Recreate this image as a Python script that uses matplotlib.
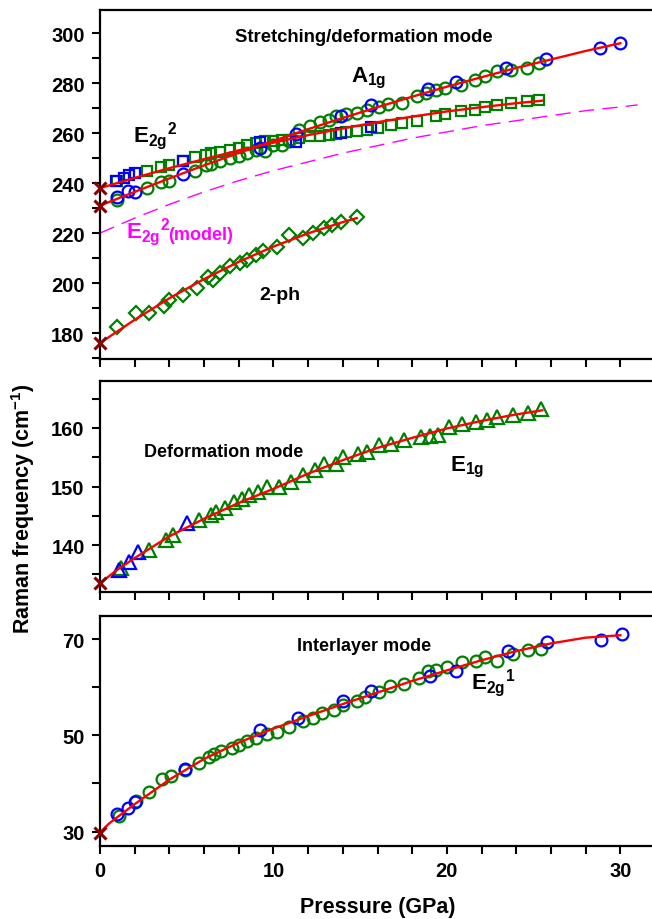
import matplotlib
matplotlib.use('Agg')
import matplotlib.pyplot as plt
from matplotlib.ticker import MultipleLocator, FixedLocator

plt.rcParams['font.family'] = ['Liberation Sans', 'DejaVu Sans']
plt.rcParams['font.weight'] = 'bold'
plt.rcParams['mathtext.fontset'] = 'custom'
plt.rcParams['mathtext.rm'] = 'Liberation Sans:bold'
plt.rcParams['mathtext.bf'] = 'Liberation Sans:bold'
plt.rcParams['mathtext.it'] = 'Liberation Sans:bold'

GREEN = '#008000'
BLUE = '#0000ff'
RED = '#ff0000'
XRED = '#8b0000'
MAGENTA = '#ff00ff'

# ---- top panel: A1g (circles), E2g^2 (squares), 2-phonon (diamonds) ----
a1g_green_p = [1.0, 2.7, 3.5, 4.0, 5.5, 6.1, 6.4, 6.9, 7.5, 8.0, 8.5, 9.0, 9.5, 10.0,
               10.5, 10.9, 11.5, 12.1, 12.7, 13.2, 13.6, 14.2, 14.8, 15.4, 16.1, 16.6,
               17.4, 18.3, 18.8, 19.4, 19.9, 20.8, 21.6, 22.2, 22.9, 23.7, 24.6, 25.3]
a1g_green_v = [233.3, 238.0, 240.3, 241.0, 245.0, 247.3, 247.7, 248.7, 250.0, 250.7,
               252.0, 253.3, 252.7, 255.3, 255.3, 256.7, 261.3, 263.0, 264.3, 265.3,
               267.0, 267.5, 268.0, 269.3, 270.5, 271.6, 272.1, 274.7, 276.0, 277.1,
               278.0, 279.3, 281.3, 282.9, 284.7, 285.3, 286.0, 288.0]
a1g_blue_p = [1.0, 1.6, 2.0, 4.8, 9.2, 11.3, 13.9, 15.6, 18.9, 20.5, 23.4, 25.7, 28.8, 30.0]
a1g_blue_v = [234.5, 237.0, 236.5, 243.5, 254.0, 259.5, 266.9, 271.2, 277.8, 280.3,
              286.0, 289.6, 294.0, 296.0]
a1g_fit_p = [0, 2, 4, 6, 8, 10, 12, 14, 16, 18, 20, 22, 24, 26, 28, 30]
a1g_fit_v = [231.0, 236.5, 241.9, 247.1, 252.1, 256.9, 261.6, 266.1, 270.4, 274.6,
             278.6, 282.4, 286.1, 289.5, 292.9, 296.0]

e2g2_green_p = [1.0, 2.7, 3.5, 4.0, 4.8, 5.5, 6.1, 6.4, 6.9, 7.5, 8.0, 8.5, 9.0, 9.5,
                10.0, 10.5, 10.9, 11.5, 12.1, 12.7, 13.2, 13.6, 14.2, 14.8, 15.4, 16.0,
                16.8, 17.4, 18.3, 19.4, 19.9, 20.8, 21.6, 22.2, 22.9, 23.7, 24.6, 25.3]
e2g2_green_v = [240.9, 244.9, 246.3, 247.1, 248.9, 250.3, 251.3, 252.0, 252.4, 253.3,
                254.0, 255.3, 256.0, 256.7, 257.0, 257.3, 257.3, 258.0, 258.7, 258.9,
                259.3, 259.6, 260.4, 260.7, 261.3, 262.0, 263.1, 264.0, 264.9, 266.7,
                267.6, 268.7, 269.3, 270.3, 271.3, 272.0, 272.9, 273.3]
e2g2_blue_p = [0.9, 1.4, 1.7, 2.0, 4.8, 9.2, 11.3, 13.9, 15.6]
e2g2_blue_v = [240.9, 242.0, 243.3, 244.0, 248.7, 256.5, 256.4, 260.0, 262.5]
e2g2_fit_p = [0, 2, 4, 6, 8, 10, 12, 14, 16, 18, 20, 22, 24, 25.5]
e2g2_fit_v = [238.0, 242.1, 246.0, 249.6, 253.1, 256.2, 259.2, 261.9, 264.4, 266.6,
              268.7, 270.4, 272.0, 273.0]

model_p = [0, 2, 4, 6, 8, 10, 12, 14, 16, 18, 20, 22, 24, 26, 28, 30, 31]
model_v = [220.0, 226.0, 231.5, 236.5, 241.0, 245.0, 248.5, 252.0, 255.0, 258.0,
           260.5, 263.0, 265.0, 267.0, 269.0, 270.5, 271.3]

ph2_p = [1.0, 2.1, 2.8, 3.7, 4.0, 4.8, 5.6, 6.2, 6.5, 6.9, 7.5, 8.1, 8.5, 9.0, 9.4,
         10.2, 10.9, 11.7, 12.3, 12.9, 13.4, 13.9, 14.8]
ph2_v = [182.3, 188.0, 188.0, 190.7, 193.3, 195.3, 198.0, 202.3, 201.3, 204.0, 206.7,
         208.0, 209.3, 211.3, 212.7, 214.3, 219.1, 218.0, 220.0, 222.0, 223.3, 224.4, 226.4]
ph2_fit_p = [0, 2, 4, 6, 8, 10, 12, 14, 14.8]
ph2_fit_v = [176.0, 185.3, 193.9, 201.6, 208.5, 214.6, 219.9, 224.4, 226.0]

# ---- middle panel: E1g (triangles) ----
e1g_green_p = [1.2, 2.8, 3.8, 4.2, 5.7, 6.4, 6.7, 7.2, 7.7, 8.2, 8.6, 9.1, 9.6, 10.3,
               11.0, 11.7, 12.4, 12.9, 13.6, 14.0, 14.9, 15.4, 16.1, 16.8, 17.5, 18.5,
               19.0, 19.5, 20.1, 20.9, 21.7, 22.3, 22.9, 23.8, 24.7, 25.4]
e1g_green_v = [136.1, 139.2, 140.9, 141.8, 144.3, 145.2, 145.7, 146.3, 147.4, 147.9,
               148.6, 149.1, 150.0, 150.0, 150.8, 152.0, 152.8, 153.9, 153.9, 155.1,
               155.6, 155.9, 157.1, 157.3, 157.9, 158.5, 158.6, 158.8, 160.2, 160.7,
               161.0, 161.3, 161.9, 162.2, 162.6, 163.3]
e1g_blue_p = [1.1, 1.7, 2.2, 5.0]
e1g_blue_v = [135.8, 137.1, 138.9, 143.7]
e1g_fit_p = [0, 1, 2, 4, 6, 8, 10, 12, 14, 16, 18, 20, 22, 24, 25.5]
e1g_fit_v = [133.5, 135.8, 137.8, 141.5, 144.5, 147.2, 149.6, 152.2, 154.5, 156.6,
             158.3, 159.9, 161.2, 162.3, 163.0]

# ---- bottom panel: E2g^1 (circles) ----
e2g1_green_p = [1.1, 2.1, 2.8, 3.6, 4.1, 4.9, 5.7, 6.3, 6.6, 7.0, 7.6, 8.0, 8.5, 9.0,
                9.6, 10.2, 10.9, 11.7, 12.3, 12.8, 13.5, 14.0, 14.8, 15.3, 16.1, 16.7,
                17.5, 18.4, 18.9, 19.4, 20.0, 20.9, 21.7, 22.2, 22.9, 23.8, 24.7, 25.4]
e2g1_green_v = [33.3, 36.4, 38.2, 41.0, 41.6, 42.8, 44.2, 45.4, 46.1, 46.8, 47.4, 48.0,
                48.9, 49.4, 50.2, 50.7, 51.8, 52.9, 53.7, 54.6, 55.3, 56.4, 57.1, 58.0,
                59.0, 60.2, 60.6, 61.9, 63.3, 63.5, 64.3, 65.2, 65.4, 66.3, 65.4, 67.0,
                67.7, 68.0]
e2g1_blue_p = [1.0, 1.6, 2.0, 4.9, 9.2, 11.4, 14.0, 15.6, 19.0, 20.5, 23.5, 25.8, 28.9, 30.1]
e2g1_blue_v = [33.6, 35.0, 36.2, 43.1, 51.1, 53.6, 57.1, 59.3, 62.4, 63.4, 67.5, 69.4,
               69.9, 71.1]
e2g1_fit_p = [0, 0.5, 1, 2, 4, 6, 8, 10, 12, 14, 16, 18, 20, 22, 24, 26, 28, 30]
e2g1_fit_v = [29.8, 31.6, 33.0, 35.7, 40.8, 45.1, 48.5, 51.4, 54.0, 56.5, 58.9, 61.3,
              63.5, 65.6, 67.5, 69.1, 70.3, 70.8]

e2g1_major = [30, 50, 70]
e2g1_minor = [40, 60]


def points(ax, p, v, marker, color, ms):
    ax.plot(p, v, ls='none', marker=marker, mfc='none', mec=color, ms=ms, mew=1.6)


def fit(ax, p, v):
    ax.plot(p, v, color=RED, lw=1.7, zorder=4)
    ax.plot(p[0], v[0], ls='none', marker='x', color=XRED, ms=8, mew=2.2,
            clip_on=False, zorder=5)


def style(ax, ylim, major, minor, xlabels):
    ax.set_xlim(0, 32)
    ax.set_ylim(*ylim)
    ax.xaxis.set_major_locator(MultipleLocator(10))
    ax.xaxis.set_minor_locator(MultipleLocator(2))
    if isinstance(major, list):
        ax.yaxis.set_major_locator(FixedLocator(major))
        ax.yaxis.set_minor_locator(FixedLocator(minor))
    else:
        ax.yaxis.set_major_locator(MultipleLocator(major))
        ax.yaxis.set_minor_locator(MultipleLocator(minor))
    ax.tick_params(which='both', direction='out', top=False, right=False,
                   width=1.5, length=6, labelsize=14.5, pad=5)
    if not xlabels:
        ax.tick_params(axis='x', labelbottom=False)
    for s in ax.spines.values():
        s.set_linewidth(1.6)
    for t in ax.get_xticklabels() + ax.get_yticklabels():
        t.set_fontweight('bold')


fig = plt.figure(figsize=(6.52, 9.2), dpi=100)
L, W = 100 / 652, 555 / 652
ax1 = fig.add_axes([L, 1 - 360 / 920, W, 349 / 920])
ax2 = fig.add_axes([L, 1 - 593 / 920, W, 211 / 920])
ax3 = fig.add_axes([L, 1 - 847 / 920, W, 230 / 920])

# top
ax1.plot(model_p, model_v, color=MAGENTA, lw=1.0, dashes=(11, 6))
points(ax1, e2g2_green_p, e2g2_green_v, 's', GREEN, 7.5)
points(ax1, a1g_green_p, a1g_green_v, 'o', GREEN, 8.5)
points(ax1, ph2_p, ph2_v, 'D', GREEN, 7.5)
points(ax1, e2g2_blue_p, e2g2_blue_v, 's', BLUE, 7.5)
points(ax1, a1g_blue_p, a1g_blue_v, 'o', BLUE, 8.5)
fit(ax1, a1g_fit_p, a1g_fit_v)
fit(ax1, e2g2_fit_p, e2g2_fit_v)
fit(ax1, ph2_fit_p, ph2_fit_v)
style(ax1, (169.6, 309.3), 20, 10, False)
ax1.text(15.2, 298.8, 'Stretching/deformation mode', ha='center', va='center',
         fontsize=13.3, fontweight='bold')
ax1.text(14.5, 282.3, r'$\mathbf{A_{1g}}$', ha='left', va='center', fontsize=16)
ax1.text(1.9, 259.3, r'$\mathbf{{E_{2g}}^{2}}$', ha='left', va='center', fontsize=16)
ax1.text(1.5, 221.0, r'$\mathbf{{E_{2g}}^{2}}$', ha='left', va='center', fontsize=16,
         color=MAGENTA)
ax1.text(3.9, 219.5, '(model)', ha='left', va='center', fontsize=13,
         fontweight='bold', color=MAGENTA)
ax1.text(9.2, 195.6, '2-ph', ha='left', va='center', fontsize=14, fontweight='bold')

# middle
points(ax2, e1g_green_p, e1g_green_v, '^', GREEN, 10)
points(ax2, e1g_blue_p, e1g_blue_v, '^', BLUE, 10)
fit(ax2, e1g_fit_p, e1g_fit_v)
style(ax2, (132, 168), 10, 5, False)
ax2.text(7.15, 156.0, 'Deformation mode', ha='center', va='center',
         fontsize=13, fontweight='bold')
ax2.text(20.2, 153.4, r'$\mathbf{E_{1g}}$', ha='left', va='center', fontsize=16)

# bottom
points(ax3, e2g1_green_p, e2g1_green_v, 'o', GREEN, 8.5)
points(ax3, e2g1_blue_p, e2g1_blue_v, 'o', BLUE, 8.5)
fit(ax3, e2g1_fit_p, e2g1_fit_v)
style(ax3, (27.0, 74.8), e2g1_major, e2g1_minor, True)
ax3.text(15.25, 68.7, 'Interlayer mode', ha='center', va='center',
         fontsize=13, fontweight='bold')
ax3.text(21.4, 61.0, r'$\mathbf{{E_{2g}}^{1}}$', ha='left', va='center', fontsize=16)
ax3.set_xlabel('Pressure (GPa)', fontsize=15.5, fontweight='bold', labelpad=11)

fig.text(0.035, 0.447, r'Raman frequency (cm$^{\mathbf{-1}}$)', rotation=90,
         ha='center', va='center', fontsize=15.5, fontweight='bold')

fig.savefig('out.png', dpi=100)
